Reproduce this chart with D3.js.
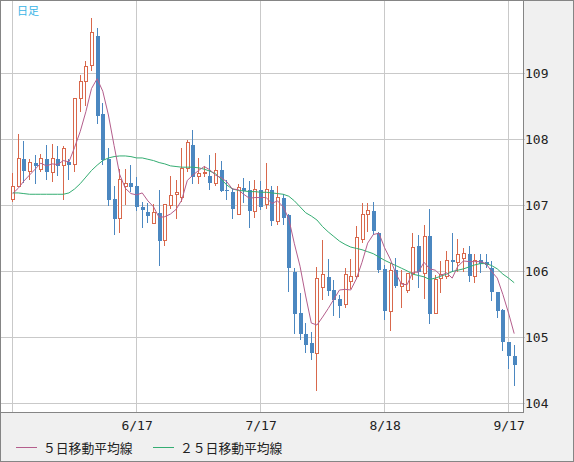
<!DOCTYPE html>
<html>
<head>
<meta charset="utf-8">
<script src="https://cdn.jsdelivr.net/npm/d3@7"></script>
<style>
  html, body { margin: 0; padding: 0; background: #fff; }
  svg { display: block; }
</style>
</head>
<body>
<svg id="chart"></svg>
<script>
// daily candles, 5/18 .. 9/18
const dates = [
  '5/18','5/19','5/20','5/21','5/22','5/25','5/26','5/27','5/28','5/29',
  '6/1','6/2','6/3','6/4','6/5','6/8','6/9','6/10','6/11','6/12',
  '6/15','6/16','6/17','6/18','6/19','6/22','6/23','6/24','6/25','6/26',
  '6/29','6/30','7/1','7/2','7/3','7/6','7/7','7/8','7/9','7/10',
  '7/13','7/14','7/15','7/16','7/17','7/20','7/21','7/22','7/23','7/24',
  '7/27','7/28','7/29','7/30','7/31','8/3','8/4','8/5','8/6','8/7',
  '8/10','8/11','8/12','8/13','8/14','8/17','8/18','8/19','8/20','8/21',
  '8/24','8/25','8/26','8/27','8/28','8/31','9/1','9/2','9/3','9/4',
  '9/7','9/8','9/9','9/10','9/11','9/14','9/15','9/16','9/17','9/18'];

const open = [
  107.09,107.29,107.71,107.52,107.65,107.55,107.71,107.50,107.71,107.60,
  107.66,107.62,108.62,108.88,109.12,109.56,108.38,107.71,107.10,106.81,
  107.29,107.34,107.29,106.98,106.90,106.73,106.89,106.47,107.00,107.16,
  107.12,107.56,107.91,107.44,107.49,107.45,107.34,107.53,107.24,107.20,
  106.86,107.27,107.24,106.91,107.24,107.02,107.24,106.76,107.12,106.86,
  105.99,105.37,105.06,104.92,104.76,105.76,105.92,105.72,105.58,105.50,
  105.85,105.92,106.49,106.86,106.92,106.59,106.04,105.40,106.03,105.78,
  105.72,105.97,106.39,105.97,106.54,105.37,105.89,105.93,106.17,106.14,
  106.20,106.27,105.92,106.18,106.15,106.06,105.69,105.41,104.93,104.72];
const high = [
  107.49,108.08,107.98,107.70,107.76,107.78,107.92,107.93,107.90,107.90,
  107.71,108.63,108.98,109.19,109.84,109.68,108.55,107.87,107.29,107.55,
  107.55,107.62,107.43,107.05,107.04,107.02,107.23,107.02,107.45,107.38,
  107.87,107.99,108.15,107.72,107.60,107.77,107.80,107.67,107.39,107.27,
  107.32,107.42,107.37,107.39,107.37,107.65,107.30,107.29,107.17,106.87,
  106.06,105.67,105.22,105.08,106.07,106.47,106.19,105.87,105.65,106.06,
  106.19,106.69,107.04,107.04,107.05,106.60,106.10,106.13,106.21,106.02,
  105.98,106.59,106.56,106.70,106.95,105.95,106.16,106.31,106.59,106.49,
  106.36,106.38,106.27,106.26,106.26,106.16,105.69,105.43,104.93,104.88];
const low = [
  107.05,107.28,107.34,107.39,107.32,107.50,107.39,107.35,107.44,107.08,
  107.39,107.50,108.41,108.51,109.04,108.23,107.62,106.99,106.56,106.59,
  107.00,107.20,106.91,106.66,106.74,106.72,106.08,106.38,106.95,106.79,
  107.05,107.50,107.33,107.32,107.43,107.24,107.30,107.20,107.09,106.79,
  106.85,107.04,106.66,106.81,106.93,106.95,106.69,106.71,106.71,105.69,
  105.05,104.96,104.77,104.66,104.19,105.57,105.63,105.32,105.30,105.45,
  105.73,105.88,106.43,106.60,106.55,105.98,105.27,105.10,105.75,105.45,
  105.68,105.87,105.75,105.58,105.20,105.35,105.68,105.88,106.00,106.00,
  106.00,105.84,105.82,105.98,106.06,105.55,105.30,104.79,104.53,104.27];
const close = [
  107.29,107.71,107.52,107.65,107.60,107.71,107.50,107.71,107.60,107.87,
  107.62,108.62,108.88,109.10,109.62,108.36,107.69,107.08,106.80,107.40,
  107.34,107.28,106.98,106.93,106.84,106.89,106.46,107.02,107.15,107.20,
  107.56,107.96,107.43,107.49,107.50,107.34,107.53,107.22,107.22,106.94,
  107.27,107.22,106.91,107.24,106.98,107.24,106.76,107.12,106.81,106.05,
  105.36,105.05,104.89,104.76,105.89,105.96,105.70,105.57,105.48,105.95,
  105.92,106.51,106.86,106.92,106.61,106.02,105.40,106.02,105.78,105.82,
  105.97,106.37,105.99,106.53,105.35,105.88,105.96,106.17,106.14,106.26,
  106.27,105.93,106.17,106.12,106.10,105.69,105.40,104.93,104.72,104.58];

// 5日移動平均線
const ma5 = [
  107.18,107.26,107.37,107.46,107.55,107.64,107.60,107.63,107.62,107.68,
  107.66,107.88,108.12,108.42,108.77,108.92,108.73,108.37,107.91,107.47,
  107.26,107.18,107.16,107.19,107.07,106.98,106.82,106.83,106.87,106.94,
  107.08,107.38,107.46,107.53,107.59,107.54,107.46,107.42,107.36,107.25,
  107.24,107.17,107.11,107.12,107.12,107.12,107.03,107.07,106.98,106.80,
  106.42,106.08,105.63,105.22,105.19,105.31,105.44,105.58,105.72,105.73,
  105.72,105.89,106.14,106.43,106.56,106.58,106.36,106.19,105.97,105.81,
  105.80,105.99,105.99,106.14,106.04,106.02,105.94,105.98,105.90,106.08,
  106.16,106.15,106.15,106.15,106.12,106.00,105.90,105.65,105.37,105.06];
// 25日移動平均線
const ma25 = [
  107.19,107.19,107.18,107.17,107.17,107.17,107.17,107.17,107.17,107.17,
  107.19,107.25,107.33,107.43,107.53,107.61,107.68,107.72,107.74,107.75,
  107.75,107.74,107.72,107.72,107.70,107.68,107.65,107.63,107.60,107.59,
  107.58,107.58,107.58,107.57,107.55,107.52,107.48,107.40,107.31,107.25,
  107.23,107.22,107.21,107.21,107.20,107.20,107.19,107.18,107.17,107.14,
  107.07,106.98,106.89,106.84,106.78,106.68,106.60,106.53,106.46,106.41,
  106.37,106.35,106.33,106.30,106.27,106.22,106.17,106.13,106.09,106.05,
  106.01,105.96,105.94,105.92,105.88,105.90,105.93,105.96,106.00,106.02,
  106.04,106.07,106.10,106.12,106.12,106.09,106.04,105.96,105.90,105.83];

const priceTicks = [104, 105, 106, 107, 108, 109];
const gridDates = ['5/18', '6/17', '7/17', '8/18', '9/17'];
const labelDates = ['6/17', '7/17', '8/18', '9/17'];
const legendNames = ['５日移動平均線', '２５日移動平均線'];

const W = 574, H = 462;
const plot = {left: 1, top: 1, right: 523, bottom: 412};
const upColor = '#d8684c', downColor = '#4b87c0';
const ma5Color = '#b45e8c', ma25Color = '#34ad72';
const gridColor = '#c9c9c9', frameColor = '#858585';
const monoFont = '"DejaVu Sans Mono", "Liberation Mono", monospace';
const jpFont = '"Noto Sans CJK JP", "Noto Sans", sans-serif';

function snap(v) {
    return Math.floor(v) + 0.5;
}

function drawChart() {
    let svg = d3.select('#chart')
        .attr('width', W)
        .attr('height', H);

    svg.append('rect')
        .attr('x', 0.5).attr('y', 0.5)
        .attr('width', W - 1).attr('height', H - 1)
        .attr('fill', '#f0f0f0')
        .attr('stroke', frameColor);

    svg.append('rect')
        .attr('x', plot.left).attr('y', plot.top)
        .attr('width', plot.right - plot.left)
        .attr('height', plot.bottom - plot.top)
        .attr('fill', '#fff');

    let x = d3.scalePoint()
        .domain(dates)
        .range([12.6, 514.2]);
    let y = d3.scaleLinear()
        .domain([104, 109])
        .range([403.6, 73.4]);

    // grid
    let grid = svg.append('g').attr('shape-rendering', 'crispEdges');
    grid.selectAll('line.h')
        .data(priceTicks)
        .enter()
        .append('line')
        .attr('class', 'h')
        .attr('x1', plot.left).attr('x2', plot.right + 2)
        .attr('y1', d => snap(y(d))).attr('y2', d => snap(y(d)))
        .attr('stroke', gridColor);
    grid.selectAll('line.v')
        .data(gridDates)
        .enter()
        .append('line')
        .attr('class', 'v')
        .attr('x1', d => snap(x(d))).attr('x2', d => snap(x(d)))
        .attr('y1', plot.top).attr('y2', plot.bottom)
        .attr('stroke', gridColor);

    // plot frame (right / bottom)
    svg.append('path')
        .attr('d', `M${plot.right + 0.5},${plot.top}V${plot.bottom + 0.5}H${plot.left}`)
        .attr('fill', 'none')
        .attr('stroke', frameColor)
        .attr('shape-rendering', 'crispEdges');

    // candles
    let candles = dates.map(function(d, i) {
        return {date: d, o: open[i], h: high[i], l: low[i], c: close[i]};
    });
    let cg = svg.append('g').attr('shape-rendering', 'crispEdges');
    let candle = cg.selectAll('g')
        .data(candles)
        .enter()
        .append('g');
    candle.append('line')
        .attr('x1', d => snap(x(d.date))).attr('x2', d => snap(x(d.date)))
        .attr('y1', d => y(d.h)).attr('y2', d => y(d.l))
        .attr('stroke', d => d.c >= d.o ? upColor : downColor);
    // up: hollow 4px box, down: filled 4px box
    candle.filter(d => d.c >= d.o)
        .append('rect')
        .attr('x', d => Math.floor(x(d.date)) - 0.5)
        .attr('width', 3)
        .attr('y', d => y(d.c))
        .attr('height', d => Math.max(1, y(d.o) - y(d.c)))
        .attr('fill', '#fff')
        .attr('stroke', upColor);
    candle.filter(d => d.c < d.o)
        .append('rect')
        .attr('x', d => Math.floor(x(d.date)) - 1)
        .attr('width', 4)
        .attr('y', d => y(d.o))
        .attr('height', d => Math.max(1, y(d.c) - y(d.o)))
        .attr('fill', downColor);

    // moving averages
    let line = d3.line()
        .x((v, i) => x(dates[i]))
        .y(v => y(v));
    svg.append('path')
        .attr('d', line(ma25))
        .attr('fill', 'none')
        .attr('stroke', ma25Color)
        .attr('stroke-width', 1);
    svg.append('path')
        .attr('d', line(ma5))
        .attr('fill', 'none')
        .attr('stroke', ma5Color)
        .attr('stroke-width', 1);

    // price labels
    svg.append('g')
        .selectAll('text')
        .data(priceTicks)
        .enter()
        .append('text')
        .attr('x', 525)
        .attr('y', d => y(d) + 4.5)
        .attr('font-family', monoFont)
        .attr('font-size', 13)
        .attr('fill', '#222')
        .text(d => d);

    // date labels
    svg.append('g')
        .selectAll('text')
        .data(labelDates)
        .enter()
        .append('text')
        .attr('x', d => x(d) + 0.5)
        .attr('y', 430)
        .attr('text-anchor', 'middle')
        .attr('font-family', monoFont)
        .attr('font-size', 13)
        .attr('fill', '#222')
        .text(d => d);

    svg.append('text')
        .attr('x', 17)
        .attr('y', 15)
        .attr('font-family', jpFont)
        .attr('font-size', 11)
        .attr('fill', '#3ab4e6')
        .text('日足');

    // legend
    let legend = svg.append('g');
    let legendX = [16, 153];
    let legendColors = [ma5Color, ma25Color];
    legendNames.forEach(function(name, i) {
        legend.append('line')
            .attr('x1', legendX[i]).attr('x2', legendX[i] + 21)
            .attr('y1', 447.5).attr('y2', 447.5)
            .attr('stroke', legendColors[i])
            .attr('shape-rendering', 'crispEdges');
        legend.append('text')
            .attr('x', legendX[i] + 27)
            .attr('y', 452.5)
            .attr('font-family', jpFont)
            .attr('font-size', 12.8)
            .attr('fill', '#222')
            .text(name);
    });
}

drawChart();
</script>
</body>
</html>
